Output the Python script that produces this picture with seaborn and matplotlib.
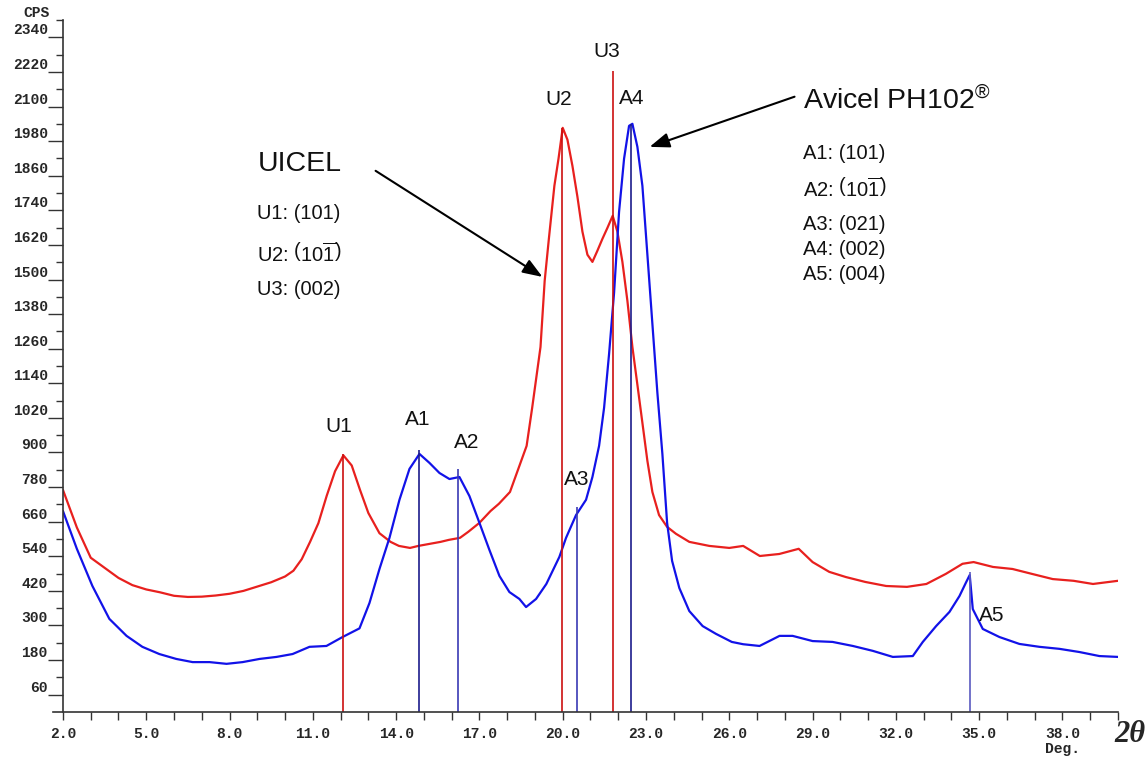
import matplotlib
matplotlib.use("Agg")
import numpy as np
import pandas as pd
import seaborn as sns
import matplotlib.pyplot as plt

# ---------------- data ----------------
uicel_2theta = [2.0, 2.5, 3.0, 3.5, 4.0, 4.5, 5.0, 5.5, 6.0, 6.5, 7.0, 7.5, 8.0, 8.5, 9.0,
                9.5, 10.0, 10.3, 10.6, 10.9, 11.2, 11.5, 11.8, 12.1, 12.4, 12.7, 13.0,
                13.4, 13.8, 14.1, 14.5, 14.8, 15.2, 15.6, 15.9, 16.3, 16.6, 17.0, 17.4,
                17.7, 18.1, 18.4, 18.7, 18.9, 19.2, 19.35, 19.5, 19.7, 19.85, 20.0,
                20.17, 20.35, 20.53, 20.71, 20.89, 21.07, 21.25, 21.43, 21.61, 21.8,
                21.97, 22.15, 22.33, 22.51, 22.69, 22.87, 23.05, 23.23, 23.47, 23.76,
                24.08, 24.56, 25.28, 26.0, 26.5, 27.1, 27.8, 28.5, 29.0, 29.6, 30.2,
                30.9, 31.65, 32.4, 33.1, 33.8, 34.4, 34.8, 35.5, 36.2, 36.9, 37.65,
                38.4, 39.1, 40.0]
uicel_cps = [770, 640, 535, 500, 465, 440, 425, 415, 403, 399, 400, 404, 410, 420, 435,
             450, 470, 490, 530, 590, 655, 750, 835, 890, 855, 770, 690,
             620, 590, 576, 569, 576, 583, 590, 597, 604, 625, 656, 697,
             722, 763, 843, 923, 1055, 1266, 1495, 1640, 1825, 1920, 2026,
             1985, 1894, 1787, 1666, 1586, 1561, 1600, 1641, 1679, 1721,
             1666, 1561, 1426, 1266, 1135, 1003, 871, 763, 683, 642,
             618, 590, 576, 569, 576, 541, 548, 566, 520, 486, 468,
             451, 437, 434, 444, 479, 514, 520, 503, 496, 479, 461,
             455, 444, 455]

avicel_2theta = [2.0, 2.5, 3.06, 3.67, 4.29, 4.86, 5.47, 6.08, 6.67, 7.28, 7.89, 8.47,
                 9.08, 9.69, 10.27, 10.88, 11.49, 12.07, 12.68, 13.04, 13.4, 13.76,
                 14.12, 14.48, 14.84, 15.2, 15.56, 15.92, 16.28, 16.64, 17.0, 17.36,
                 17.72, 18.08, 18.44, 18.68, 19.04, 19.41, 19.88, 20.12, 20.48, 20.84,
                 21.07, 21.31, 21.49, 21.67, 21.85, 22.03, 22.21, 22.39, 22.51, 22.69,
                 22.87, 23.05, 23.23, 23.41, 23.59, 23.76, 23.94, 24.2, 24.56, 25.04,
                 25.52, 26.09, 26.5, 27.09, 27.81, 28.28, 29.0, 29.72, 30.45, 31.17,
                 31.89, 32.61, 32.97, 33.45, 33.93, 34.29, 34.53, 34.66, 34.77, 35.13,
                 35.73, 36.45, 37.17, 37.89, 38.61, 39.33, 40.0]
avicel_cps = [697, 566, 437, 323, 264, 226, 201, 184, 173, 173, 167, 173,
              184, 191, 201, 226, 229, 260, 290, 378, 496, 604,
              736, 843, 895, 864, 829, 808, 815, 749, 656, 562,
              472, 416, 392, 364, 392, 444, 538, 604, 683, 736,
              815, 923, 1055, 1242, 1454, 1735, 1919, 2033, 2040, 1960,
              1825, 1586, 1346, 1107, 895, 656, 524, 430, 350, 298,
              271, 243, 235, 229, 264, 264, 246, 243, 229, 212,
              191, 194, 243, 298, 347, 402, 450, 475, 357, 288,
              260, 236, 226, 219, 208, 194, 191]

u_peaks = ["U1", "U2", "U3"]
u_peak_pos = [12.1, 19.97, 21.8]
u_peak_top = [895, 2026, 2222]
a_peaks = ["A1", "A2", "A3", "A4", "A5"]
a_peak_pos = [14.84, 16.24, 20.5, 22.45, 34.66]
a_peak_top = [909, 843, 711, 2040, 486]

uicel_planes = ["U1: (101)", r"U2: $\left(10\overline{1}\right)$", "U3: (002)"]
avicel_planes = ["A1: (101)", r"A2: $\left(10\overline{1}\right)$", "A3: (021)",
                 "A4: (002)", "A5: (004)"]

x_major = [2.0, 5.0, 8.0, 11.0, 14.0, 17.0, 20.0, 23.0, 26.0, 29.0, 32.0, 35.0, 38.0]
y_major = [60, 180, 300, 420, 540, 660, 780, 900, 1020, 1140, 1260, 1380, 1500,
           1620, 1740, 1860, 1980, 2100, 2220, 2340]

# ---------------- style / layout ----------------
sns.set_style("ticks")
plt.rcParams["font.family"] = ["Liberation Sans", "DejaVu Sans"]
plt.rcParams["mathtext.fontset"] = "custom"
plt.rcParams["mathtext.rm"] = "Liberation Sans"
plt.rcParams["mathtext.it"] = "Liberation Sans:italic"
plt.rcParams["mathtext.bf"] = "Liberation Sans:bold"

RED = "#e8201e"
BLUE = "#1212e8"
RED_V = "#cc1010"
BLUE_V = ["#1c1c8c", "#3a3ab4", "#3a3ab4", "#1c1c8c", "#5a5ac0"]
AX_COL = "#333333"

fig = plt.figure(figsize=(11.47, 7.58), dpi=100)
ax = fig.add_axes([0.0549, 0.0607, 0.9198, 0.9129])

df_u = pd.DataFrame({"two_theta": uicel_2theta, "cps": uicel_cps})
df_a = pd.DataFrame({"two_theta": avicel_2theta, "cps": avicel_cps})
sns.lineplot(data=df_u, x="two_theta", y="cps", color=RED, lw=1.6, ax=ax,
             sort=False, estimator=None)
sns.lineplot(data=df_a, x="two_theta", y="cps", color=BLUE, lw=1.6, ax=ax,
             sort=False, estimator=None)

ax.vlines(u_peak_pos, 0, u_peak_top, colors=RED_V, lw=1.2)
ax.vlines(a_peak_pos, 0, a_peak_top, colors=BLUE_V, lw=1.2)

ax.set_xlim(2, 40)
ax.set_ylim(0, 2400)

# peak labels
peak_lbl_fs = 15
lbl_offsets = {"U1": (-0.15, 95), "U2": (-0.1, 100), "U3": (-0.22, 68),
               "A1": (-0.07, 105), "A2": (0.3, 90), "A3": (0.0, 97),
               "A4": (0.03, 87), "A5": (0.8, -150)}
for name, pos, top in zip(u_peaks + a_peaks, u_peak_pos + a_peak_pos, u_peak_top + a_peak_top):
    dx, dy = lbl_offsets[name]
    ax.text(pos + dx, top + dy, name, fontsize=peak_lbl_fs, ha="center", va="center",
            color="#111111")

# legend-like annotations
plane_fs = 14.5
ax.text(9.0, 1901, "UICEL", fontsize=20.5, ha="left", va="center", color="#111111")
for i, t in enumerate(uicel_planes):
    ax.text(9.0, [1728, 1589, 1464][i], t, fontsize=plane_fs, ha="left", va="center",
            color="#111111")
ax.text(28.64, 2120, "Avicel PH102$^{®}$", fontsize=20.5, ha="left", va="center",
        color="#111111")
for i, t in enumerate(avicel_planes):
    ax.text(28.64, [1936, 1815, 1690, 1603, 1516][i], t, fontsize=plane_fs, ha="left",
            va="center", color="#111111")

arrow_kw = dict(arrowstyle="-|>,head_length=1.2,head_width=0.45", color="black",
                lw=1.5, shrinkA=0, shrinkB=0)
ax.annotate("", xy=(19.27, 1509), xytext=(13.26, 1877), arrowprops=arrow_kw)
ax.annotate("", xy=(23.13, 1960), xytext=(28.35, 2134), arrowprops=arrow_kw)

# axes styling
mono = dict(family="Liberation Mono", weight="bold", size=10.5)
ax.set_xticks(x_major)
ax.set_xticklabels([f"{v:.1f}" for v in x_major], fontdict=mono)
ax.set_xticks(np.arange(2, 41, 1), minor=True)
ax.set_yticks(y_major)
ax.set_yticklabels([str(v) for v in y_major], fontdict=mono)
ax.set_yticks([v for v in range(120, 2401, 120)], minor=True)

ax.tick_params(axis="x", which="both", direction="out", length=6, width=1,
               color=AX_COL, pad=5)
ax.tick_params(axis="y", which="major", direction="out", length=11, width=1,
               color=AX_COL, pad=0)
ax.tick_params(axis="y", which="minor", direction="out", length=5, width=1,
               color=AX_COL)

for s in ["top", "right"]:
    ax.spines[s].set_visible(False)
for s in ["left", "bottom"]:
    ax.spines[s].set_color(AX_COL)
    ax.spines[s].set_linewidth(1.2)
ax.spines["bottom"].set_bounds(1.64, 40)

ax.set_xlabel("Deg.", fontdict=mono)
ax.xaxis.set_label_coords(0.947, -0.0435)
ax.set_ylabel("CPS", fontdict=mono, rotation=0, ha="right", va="bottom")
ax.yaxis.set_label_coords(-0.013, 1.0)

fig.text(0.999, 0.031, "2θ", fontsize=22, family="Liberation Serif",
         weight="bold", style="italic", ha="right", va="center")

for lbl in ax.get_yticklabels():
    lbl.set_va("bottom")

fig.savefig("out.png", dpi=100, facecolor="white")
